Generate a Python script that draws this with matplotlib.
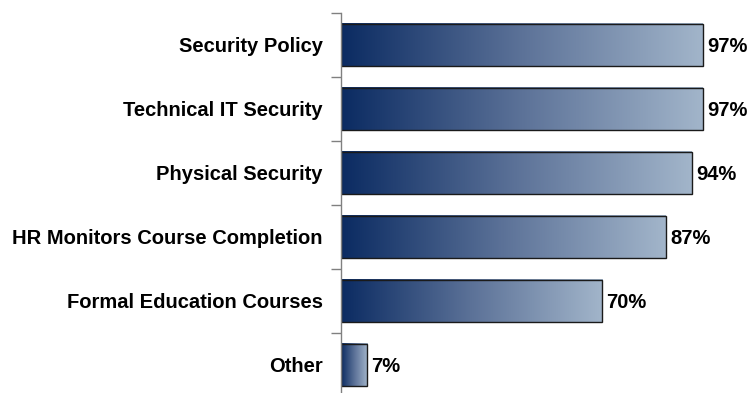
import numpy as np
import matplotlib.pyplot as plt
from matplotlib.colors import LinearSegmentedColormap

categories = ['Security Policy', 'Technical IT Security', 'Physical Security',
              'HR Monitors Course Completion', 'Formal Education Courses', 'Other']
values = [97, 97, 94, 87, 70, 7]

plt.rcParams['font.family'] = ['Liberation Sans', 'DejaVu Sans']

fig = plt.figure(figsize=(7.49, 3.93), dpi=100)
ax = fig.add_axes([341 / 749, -4 / 393, 373 / 749, 384 / 393])

# dark navy to pale steel blue, stretched over each bar
grad_cmap = LinearSegmentedColormap.from_list('bar_grad', ['#0b2b62', '#5c7298', '#a2b5ca'])
gradient = np.linspace(0, 1, 256).reshape(1, -1)

bar_h = 0.67
y_pos = np.arange(len(categories))
for y, v in zip(y_pos, values):
    ax.imshow(gradient, cmap=grad_cmap, aspect='auto', interpolation='bilinear',
              extent=[0, v, y + bar_h / 2, y - bar_h / 2], zorder=1)
    ax.text(v + 1.2, y + 0.03, f'{v}%', va='center', ha='left', fontsize=14.5, fontweight='bold')

ax.barh(y_pos, values, height=bar_h, facecolor='none', edgecolor='#1a1a1a', linewidth=1, zorder=2)

ax.set_xlim(0, 100)
ax.set_ylim(len(categories) - 0.5, -0.5)

for side in ['top', 'right', 'bottom']:
    ax.spines[side].set_visible(False)
ax.spines['left'].set_color('#808080')
ax.spines['left'].set_linewidth(1)

ax.set_xticks([])
ax.set_yticks(y_pos)
ax.set_yticklabels(categories, fontsize=14.5, fontweight='bold')
ax.tick_params(axis='y', which='major', length=0, pad=13)
ax.set_yticks(np.arange(len(categories) + 1) - 0.5, minor=True)
ax.tick_params(axis='y', which='minor', length=7, color='#808080', width=1)

plt.savefig('out.png', dpi=100)
